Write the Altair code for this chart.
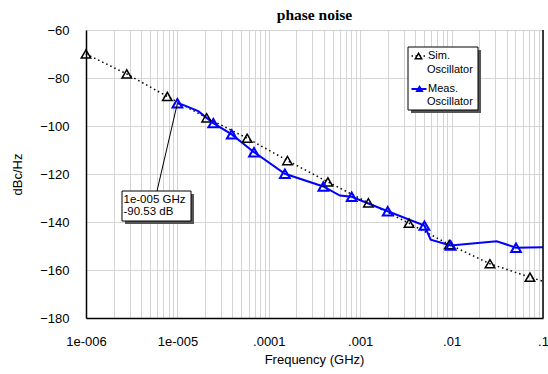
import altair as alt
import pandas as pd

# ---- data ----
sim_freq = [1e-6, 2.79e-6, 7.75e-6, 2.09e-5, 5.8e-5, 1.6e-4, 4.43e-4, 1.23e-3, 3.42e-3, 9.44e-3, 2.63e-2, 7.2e-2]
sim_db = [-70.0, -78.3, -87.7, -96.6, -105.1, -114.4, -123.3, -132.0, -140.5, -149.4, -157.4, -163.0]
sim_end_freq = [0.1]
sim_end_db = [-164.7]

meas_line_freq = [1e-5, 1.21e-5, 1.69e-5, 2.47e-5, 3.93e-5, 6.89e-5, 1.5e-4, 3.95e-4, 6.0e-4, 8.07e-4,
                  2.0e-3, 5.04e-3, 5.9e-3, 9.77e-3, 3.11e-2, 5.07e-2, 0.1]
meas_line_db = [-90.53, -91.5, -93.8, -98.8, -103.5, -110.9, -119.9, -125.2, -129.0, -129.5,
                -135.5, -141.5, -147.4, -149.8, -148.0, -150.7, -150.5]
meas_mark_freq = [1e-5, 2.47e-5, 3.93e-5, 6.89e-5, 1.5e-4, 3.95e-4, 8.07e-4, 2.0e-3, 5.04e-3, 9.77e-3, 5.07e-2]
meas_mark_db = [-90.53, -98.8, -103.5, -110.9, -119.9, -125.2, -129.5, -135.5, -141.5, -149.8, -150.7]

decade_exps = [-6, -5, -4, -3, -2, -1]
x_tick_labels = ["1e-006", "1e-005", ".0001", ".001", ".01", ".1"]
y_ticks = [-180, -160, -140, -120, -100, -80, -60]

marker_freq = [1e-5]
marker_db = [-90.53]
marker_text1 = "1e-005 GHz"
marker_text2 = "-90.53 dB"

legend_sim = ["Sim.", "Oscillator"]
legend_meas = ["Meas.", "Oscillator"]

# ---- tables ----
sim_df = pd.DataFrame({"f": sim_freq, "db": sim_db})
sim_line_df = pd.DataFrame({"f": sim_freq + sim_end_freq, "db": sim_db + sim_end_db})
meas_line_df = pd.DataFrame({"f": meas_line_freq, "db": meas_line_db})
meas_mark_df = pd.DataFrame({"f": meas_mark_freq, "db": meas_mark_db})
mk_df = pd.DataFrame({"f": marker_freq, "db": marker_db})
one = pd.DataFrame({"a": [0]})

grid_vals = []
for e in decade_exps[:-1]:
    for m in range(1, 10):
        grid_vals.append(float(f"{m}e{e}"))
grid_vals.append(float(f"1e{decade_exps[-1]}"))

lab = "''"
for e, t in zip(decade_exps, x_tick_labels):
    lab = f"(abs(log(datum.value)/LN10 - ({e})) < 0.001 ? '{t}' : {lab})"

FONT = "Liberation Sans"
W, H = 457, 288

xs = alt.Scale(type="log", domain=[1e-6, 0.1], nice=False)
ys = alt.Scale(domain=[-180, -60], nice=False, zero=False)

xaxis = alt.Axis(values=grid_vals, labelExpr=lab, ticks=False, tickSize=0, labelPadding=17,
                 labelOverlap=False, labelFlush=False, grid=True, gridColor="#d4d4d4", gridWidth=1,
                 domainColor="black", domainWidth=1.5, labelFont=FONT, labelFontSize=13,
                 labelColor="black", title="Frequency (GHz)", titleFont=FONT, titleFontSize=13,
                 titleFontWeight="normal", titleColor="black", titleX=228, titleY=41,
                 titleBaseline="middle", titleAlign="center")
yaxis = alt.Axis(values=y_ticks, ticks=False, tickSize=0, labelPadding=17, labelFlush=False,
                 labelOverlap=False, grid=True, gridColor="#d4d4d4", gridWidth=1,
                 domainColor="black", domainWidth=1.5, labelFont=FONT, labelFontSize=13,
                 labelColor="black", title="dBc/Hz", titleFont=FONT, titleFontSize=13,
                 titleFontWeight="normal", titleColor="black", titleX=-69, titleY=144,
                 titleAngle=-90, titleBaseline="middle", titleAlign="center")

sim_line = alt.Chart(sim_line_df).mark_line(color="black", strokeWidth=1.5, strokeDash=[1.5, 3]).encode(
    x=alt.X("f:Q", scale=xs, axis=xaxis), y=alt.Y("db:Q", scale=ys, axis=yaxis))
sim_pts = alt.Chart(sim_df).mark_point(shape="triangle-up", filled=False, color="black",
                                       strokeWidth=1.5, size=90, opacity=1).encode(
    x=alt.X("f:Q", scale=xs), y=alt.Y("db:Q", scale=ys))
meas_line = alt.Chart(meas_line_df).mark_line(color="#0000ff", strokeWidth=2).encode(
    x=alt.X("f:Q", scale=xs), y=alt.Y("db:Q", scale=ys))
meas_pts = alt.Chart(meas_mark_df).mark_point(shape="triangle-up", filled=False, color="#0000ff",
                                              strokeWidth=2, size=95, opacity=1).encode(
    x=alt.X("f:Q", scale=xs), y=alt.Y("db:Q", scale=ys))

right_edge = alt.Chart(one).mark_rule(color="black", strokeWidth=1.5).encode(
    x=alt.value(W), y=alt.value(0), y2=alt.value(H))

# annotation
leader = alt.Chart(mk_df).mark_rule(color="black", strokeWidth=1).encode(
    x=alt.X("f:Q", scale=xs), y=alt.Y("db:Q", scale=ys), x2=alt.value(71), y2=alt.value(161))
ann_shadow = alt.Chart(one).mark_rect(color="#555555").encode(
    x=alt.value(39), x2=alt.value(108), y=alt.value(164), y2=alt.value(194))
ann_box = alt.Chart(one).mark_rect(fill="white", stroke="black", strokeWidth=1).encode(
    x=alt.value(36), x2=alt.value(105), y=alt.value(161), y2=alt.value(191))
ann_t1 = alt.Chart(one).mark_text(text=marker_text1, font=FONT, fontSize=11.5, align="left",
                                  baseline="middle", color="black").encode(
    x=alt.value(37.5), y=alt.value(170))
ann_t2 = alt.Chart(one).mark_text(text=marker_text2, font=FONT, fontSize=11.5, align="left",
                                  baseline="middle", color="black").encode(
    x=alt.value(37.5), y=alt.value(182))

# legend
lg_shadow = alt.Chart(one).mark_rect(color="#555555").encode(
    x=alt.value(325), x2=alt.value(395), y=alt.value(20), y2=alt.value(83))
lg_box = alt.Chart(one).mark_rect(fill="white", stroke="black", strokeWidth=1).encode(
    x=alt.value(322), x2=alt.value(392), y=alt.value(17), y2=alt.value(80))
lg_sim_line = alt.Chart(one).mark_rule(color="black", strokeWidth=1.5, strokeDash=[1.5, 2.5]).encode(
    x=alt.value(325.5), x2=alt.value(340.5), y=alt.value(26))
lg_sim_pt = alt.Chart(one).mark_point(shape="triangle-up", filled=True, fill="white", stroke="black",
                                      strokeWidth=1.5, size=40, opacity=1).encode(
    x=alt.value(332.5), y=alt.value(26))
lg_meas_line = alt.Chart(one).mark_rule(color="#0000ff", strokeWidth=2).encode(
    x=alt.value(325.5), x2=alt.value(340.5), y=alt.value(59))
lg_meas_pt = alt.Chart(one).mark_point(shape="triangle-up", filled=True, color="#0000ff",
                                       size=70, opacity=1).encode(
    x=alt.value(333.5), y=alt.value(58.5))


def lt(txt, x, y):
    return alt.Chart(one).mark_text(text=txt, font=FONT, fontSize=11, align="left",
                                    baseline="middle", color="black").encode(
        x=alt.value(x), y=alt.value(y))


legend_texts = [lt(legend_sim[0], 342, 26), lt(legend_sim[1], 341, 39.5),
                lt(legend_meas[0], 342, 59), lt(legend_meas[1], 341, 71.5)]

chart = alt.layer(
    sim_line, meas_line, sim_pts, meas_pts, right_edge,
    leader, ann_shadow, ann_box, ann_t1, ann_t2,
    lg_shadow, lg_box, lg_sim_line, lg_sim_pt, lg_meas_line, lg_meas_pt, *legend_texts
).properties(
    width=W, height=H,
    title=alt.TitleParams("phase noise", font="Liberation Serif", fontSize=15.5, fontWeight="bold",
                          anchor="middle", color="black", offset=1),
    autosize=alt.AutoSizeParams(type="none"),
    padding={"left": 86, "top": 30, "right": 5, "bottom": 56},
).configure_view(stroke=None).configure(background="white")

chart.save("out.html", embed_options={"renderer": "svg", "actions": False})
